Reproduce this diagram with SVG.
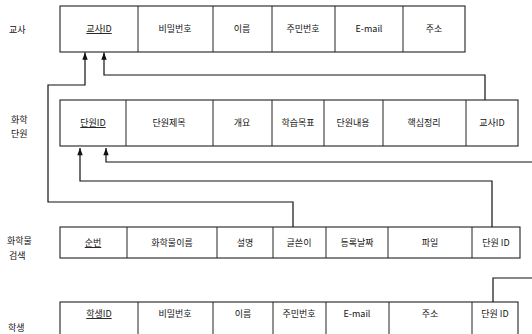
<svg xmlns="http://www.w3.org/2000/svg" width="532" height="334" viewBox="0 0 532 334">
<defs>
<marker id="arr" viewBox="0 0 8 10" refX="8" refY="5" markerWidth="8" markerHeight="9" markerUnits="userSpaceOnUse" orient="auto">
<path d="M0,2 L8,5 L0,8 Z" fill="#111"/>
</marker>
</defs>
<style>
.box{fill:#fff;stroke:#222;stroke-width:1.1}
.div{stroke:#222;stroke-width:1}
.t{font-family:"Noto Sans CJK KR","Noto Sans",sans-serif;font-size:9px;fill:#111;text-anchor:middle}
.u{text-decoration:underline}
.lab{font-family:"Noto Sans CJK KR","Noto Sans",sans-serif;font-size:9px;fill:#111}
.c{fill:none;stroke:#111;stroke-width:1.2}
</style>
<rect width="532" height="334" fill="#fff"/>
<g id="labels">
<text class="lab" x="9" y="33">교사</text>
<text class="lab" x="11" y="123">화학</text>
<text class="lab" x="11" y="137">단원</text>
<text class="lab" x="7" y="244">화학물</text>
<text class="lab" x="9" y="259">검색</text>
<text class="lab" x="8" y="331">학생</text>
</g>
<g id="teacher">
<rect class="box" x="60" y="6" width="405" height="46"/>
<path class="div" d="M138,6V52M213,6V52M272,6V52M335,6V52M403,6V52"/>
<text class="t u" x="99" y="32">교사ID</text>
<text class="t" x="175" y="32">비밀번호</text>
<text class="t" x="242" y="32">이름</text>
<text class="t" x="303" y="32">주민번호</text>
<text class="t" x="369" y="32">E-mail</text>
<text class="t" x="434" y="32">주소</text>
</g>
<g id="unit">
<rect class="box" x="60" y="100" width="458" height="46"/>
<path class="div" d="M126,100V146M213,100V146M272,100V146M324,100V146M383,100V146M466,100V146"/>
<text class="t u" x="93" y="126">단원ID</text>
<text class="t" x="169" y="126">단원제목</text>
<text class="t" x="242" y="126">개요</text>
<text class="t" x="298" y="126">학습목표</text>
<text class="t" x="353" y="126">단원내용</text>
<text class="t" x="424" y="126">핵심정리</text>
<text class="t" x="492" y="126">교사ID</text>
</g>
<g id="chem">
<rect class="box" x="60" y="227" width="460" height="31"/>
<path class="div" d="M127,227V258M217,227V258M273,227V258M326,227V258M388,227V258M472,227V258"/>
<text class="t u" x="93" y="246">순번</text>
<text class="t" x="172" y="246">화학물이름</text>
<text class="t" x="245" y="246">설명</text>
<text class="t" x="299" y="246">글쓴이</text>
<text class="t" x="357" y="246">등록날짜</text>
<text class="t" x="430" y="246">파일</text>
<text class="t" x="496" y="246">단원 ID</text>
</g>
<g id="student">
<rect class="box" x="60" y="302" width="458" height="40"/>
<path class="div" d="M138,302V342M213,302V342M273,302V342M326,302V342M389,302V342M472,302V342"/>
<text class="t u" x="99" y="317">학생ID</text>
<text class="t" x="175" y="317">비밀번호</text>
<text class="t" x="243" y="317">이름</text>
<text class="t" x="299" y="317">주민번호</text>
<text class="t" x="357" y="317">E-mail</text>
<text class="t" x="430" y="317">주소</text>
<text class="t" x="495" y="317">단원 ID</text>
</g>
<g id="connectors">
<path class="c" d="M293,227V202H48V85H85V52.5" marker-end="url(#arr)"/>
<path class="c" d="M485,100V75H104V52.5" marker-end="url(#arr)"/>
<path class="c" d="M492,227V181H80V148" marker-end="url(#arr)"/>
<path class="c" d="M493,302V278H545V162H106V148" marker-end="url(#arr)"/>
</g>
</svg>
